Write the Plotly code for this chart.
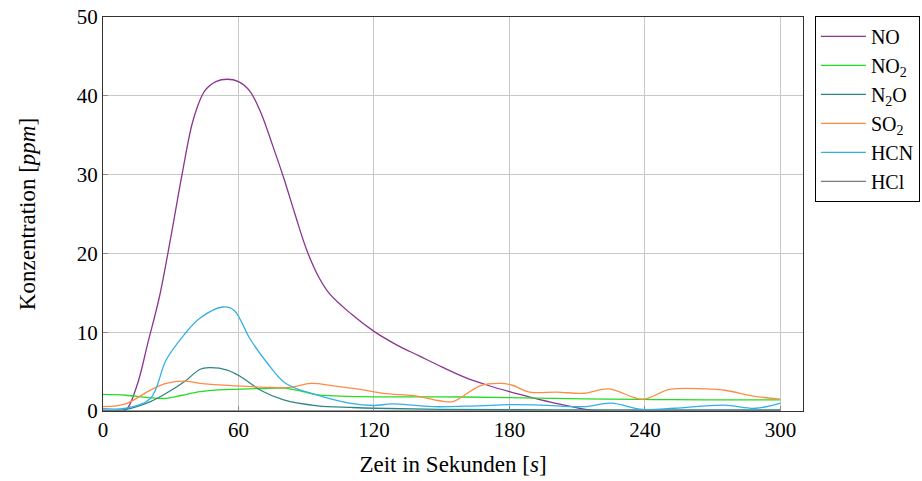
import plotly.graph_objects as go

# time axis (s) and concentrations (ppm)
t_no = [0, 5, 10, 15, 20, 25, 30, 35, 40, 45, 50, 55, 60, 65, 70, 75, 80, 85, 90, 95, 100,
        110, 120, 130, 140, 150, 160, 170, 180, 190, 200, 210, 220, 240, 260, 280, 300]
no = [0, 0, 0.1, 3.2, 8.8, 14.5, 22.0, 30.0, 37.0, 40.6, 41.8, 42.1, 41.8, 40.6, 37.8, 33.8, 29.6,
      25.0, 20.6, 17.3, 15.0, 12.3, 10.1, 8.4, 7.0, 5.6, 4.3, 3.3, 2.45, 1.7, 1.0, 0.4, 0.0, 0, 0, 0, 0]

t_no2 = [0, 10, 20, 28, 35, 43, 50, 58, 70, 80, 88, 95, 105, 120, 150, 180, 200, 223, 245, 267, 285, 300]
no2 = [2.1, 2.0, 1.7, 1.6, 2.0, 2.45, 2.65, 2.75, 2.85, 2.9, 2.5, 2.05, 1.9, 1.8, 1.8, 1.7, 1.6, 1.5, 1.45, 1.4, 1.4, 1.4]

t_n2o = [0, 10, 21, 28, 36, 43, 47, 55, 61, 70, 80, 95, 110, 120, 150, 200, 250, 300]
n2o = [0.1, 0.2, 1.2, 2.25, 3.7, 5.3, 5.5, 5.2, 4.35, 2.6, 1.4, 0.65, 0.45, 0.35, 0.2, 0.15, 0.15, 0.15]

t_so2 = [0, 10, 21, 28, 36, 43, 58, 72, 83, 92, 102, 114, 124, 139, 149, 155, 167, 176, 181, 189,
         201, 213, 224, 239, 251, 267, 276, 288, 300]
so2 = [0.55, 0.9, 2.65, 3.5, 3.8, 3.5, 3.2, 3.0, 3.0, 3.5, 3.2, 2.75, 2.25, 1.9, 1.3, 1.2, 3.2, 3.5, 3.3, 2.4,
       2.4, 2.25, 2.8, 1.5, 2.75, 2.8, 2.6, 1.9, 1.5]

t_hcn = [0, 10, 21, 28, 36, 43, 53, 58, 65, 73, 81, 95, 109, 120, 128, 146, 165, 180, 194, 213,
         225, 239, 253, 275, 289, 300]
hcn = [0.3, 0.35, 1.6, 6.5, 9.7, 11.8, 13.2, 12.8, 9.2, 6.0, 3.5, 2.0, 1.0, 0.7, 0.9, 0.55, 0.65, 0.8, 0.75, 0.55,
       1.0, 0.2, 0.35, 0.75, 0.35, 1.0]

t_hcl = [0, 60, 120, 180, 240, 300]
hcl = [0, 0, 0, 0, 0, 0]

x_ticks = [0, 60, 120, 180, 240, 300]
y_ticks = [0, 10, 20, 30, 40, 50]

series = [
    ("NO", t_no, no, "#8a3590"),
    ("NO<sub>2</sub>", t_no2, no2, "#22dd22"),
    ("N<sub>2</sub>O", t_n2o, n2o, "#2f8585"),
    ("SO<sub>2</sub>", t_so2, so2, "#ff8a45"),
    ("HCN", t_hcn, hcn, "#35aee6"),
    ("HCl", t_hcl, hcl, "#7a7a7a"),
]

font_family = "Liberation Serif, DejaVu Serif, serif"

fig = go.Figure()
for name, tx, vy, col in series:
    fig.add_trace(go.Scatter(
        x=tx, y=vy, name=name, mode="lines",
        line=dict(color=col, width=1.3, shape="spline", smoothing=1.0),
    ))

fig.update_layout(
    width=922, height=481,
    margin=dict(l=103, r=119, t=17, b=70, autoexpand=False),
    paper_bgcolor="white", plot_bgcolor="white",
    font=dict(family=font_family, size=21, color="black"),
    legend=dict(
        x=1.017, y=1.003, xanchor="left", yanchor="top",
        bordercolor="black", borderwidth=1,
        font=dict(family=font_family, size=20),
        tracegroupgap=0, itemwidth=45,
    ),
    showlegend=True,
)
fig.update_xaxes(
    range=[0, 310], tickvals=x_ticks, ticktext=[str(v) for v in x_ticks],
    showgrid=True, gridcolor="#c8c8c8", gridwidth=1,
    showline=True, linecolor="#333333", linewidth=1.2, mirror=True,
    ticks="inside", ticklen=5, tickcolor="#888888",
    zeroline=False, automargin=False,
    title=dict(text="Zeit in Sekunden [<i>s</i>]", standoff=14, font=dict(size=23)),
    tickfont=dict(size=21),
)
fig.update_yaxes(
    range=[0, 50], tickvals=y_ticks, ticktext=[str(v) for v in y_ticks],
    showgrid=True, gridcolor="#c8c8c8", gridwidth=1,
    showline=True, linecolor="#333333", linewidth=1.2, mirror=True,
    ticks="inside", ticklen=5, tickcolor="#888888",
    zeroline=False, automargin=False,
    title=dict(text="Konzentration [<i>ppm</i>]", standoff=34, font=dict(size=23)),
    tickfont=dict(size=21),
)

fig.write_html("out.html")
